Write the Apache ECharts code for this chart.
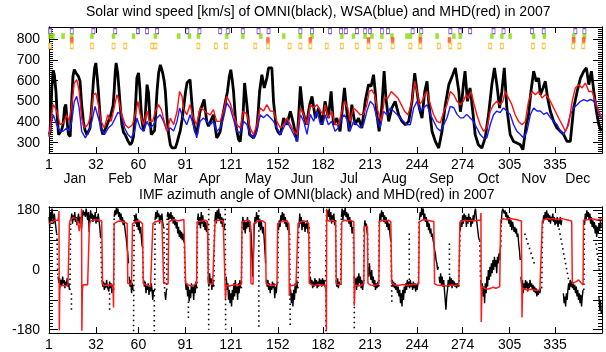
<!DOCTYPE html>
<html><head><meta charset="utf-8">
<script src="https://cdn.jsdelivr.net/npm/echarts@6/dist/echarts.min.js"></script>
<style>html,body{margin:0;padding:0;background:#fff}#c{width:606px;height:352px}</style>
</head><body><div id="c"></div>
<script>
const TITLE_TOP = 'Solar wind speed [km/s] of OMNI(black), WSA(blue) and MHD(red) in 2007';
const TITLE_BOTTOM = 'IMF azimuth angle of OMNI(black) and MHD(red) in 2007';
const DAY_TICKS = [1,32,60,91,121,152,182,213,244,274,305,335];
const MONTHS = ['Jan','Feb','Mar','Apr','May','Jun','Jul','Aug','Sep','Oct','Nov','Dec'];
const MONTH_POS = [18,48,78,107,139,168,199,229,260,291,321,350];
const SPEED_TICKS = [300,400,500,600,700,800];
const AZ_LABELS = [-180,0,180];
const AZ_MAJOR = [-180,-90,0,90,180];

// OMNI speed [day, km/s]
const omniSpeed = [[1,340],[1.7,350],[2.8,560],[3.8,650],[4.5,630],[5.6,549],[6.5,420],[7.3,339],[8.3,330],[9.3,360],[10.3,390],[11.3,470],[12.1,485],[13,400],[13.8,340],[15,330],[16,509],[16.8,620],[17.7,654],[18.6,640],[19.5,635],[20.5,620],[21.5,597],[22.6,480],[23.7,403],[24.8,360],[26,339],[27,330],[28.1,370],[29.2,480],[30.3,597],[31.1,660],[31.9,686],[32.8,620],[33.6,549],[34.5,450],[35.4,372],[36.5,340],[37.6,339],[39,380],[40.2,403],[41.3,420],[42.5,412],[43.3,480],[44,549],[44.7,640],[45.3,686],[46.3,640],[47.3,549],[48.2,460],[49.1,388],[50.2,350],[51.3,339],[53,310],[54.6,290],[55.7,300],[56.8,330],[57.9,450],[59,613],[60.1,638],[61,560],[61.7,468],[62.5,400],[63.4,356],[64.5,420],[65.7,581],[66.7,540],[67.6,420],[68.5,339],[69.6,330],[70.7,360],[71.5,450],[72.3,549],[73.4,640],[74.5,677],[75.2,660],[76,638],[77,600],[77.8,549],[78.9,420],[80,340],[81.1,290],[82.2,275],[83.3,266],[84.4,275],[85.5,300],[86.6,330],[87.7,360],[88.8,410],[89.9,470],[91,540],[92.1,590],[94.1,605],[95.2,500],[96.3,403],[97.4,360],[98.5,339],[99.6,400],[100.7,452],[102,480],[103.4,509],[105.1,403],[106.3,380],[107.4,371],[109.5,435],[110.6,380],[111.7,323],[112.8,335],[114,355],[116.2,452],[117.5,500],[118.8,548],[120,620],[121,653],[122,600],[122.8,548],[123.7,450],[124.6,371],[126.1,316],[127.2,305],[128.3,298],[129.2,450],[130.1,589],[131.6,484],[133.4,339],[134.7,330],[136,323],[137.1,340],[138.2,371],[139.1,450],[140,548],[141.5,629],[143.1,565],[144.8,613],[145.9,662],[147,668],[148.1,662],[149.2,500],[151,371],[152.3,350],[153.7,339],[155.9,419],[158,387],[160.3,452],[162.5,387],[164.7,306],[165.8,430],[166.9,573],[168.6,452],[170.9,387],[173.1,484],[174.6,524],[176.8,419],[179,468],[181.2,387],[183.2,500],[185.4,419],[187.2,548],[188.8,387],[191,419],[193.1,355],[194.7,468],[196,565],[197.6,452],[199.1,355],[200.9,484],[203,387],[205.3,419],[207.5,371],[209.7,500],[211.9,581],[213.6,573],[215.2,629],[216.3,548],[217.4,435],[218.9,355],[220.7,476],[222.2,646],[223.4,516],[225.2,403],[227.3,468],[229.5,500],[231.8,435],[234,403],[236.1,387],[238.4,403],[240.6,500],[242.4,637],[243.9,548],[245.4,468],[247.2,419],[249,548],[250.5,597],[251.6,500],[253.8,355],[256,306],[258.2,274],[260.4,355],[262.6,484],[264.9,581],[267.5,629],[269.2,662],[271.5,548],[272.5,450],[273.5,500],[274.5,581],[275.6,646],[277.2,500],[278.9,565],[280.7,452],[282.3,339],[284.4,290],[286.7,274],[288.9,323],[291.1,435],[293.3,581],[295,662],[296.6,581],[298.4,468],[299.9,548],[301.5,662],[303.2,468],[305.4,339],[307.6,306],[309.9,298],[312.1,290],[313.8,266],[316,387],[317.5,435],[319.1,548],[320.9,646],[322.6,597],[324.2,613],[325.3,532],[327.1,565],[328.6,597],[330.1,516],[331.9,452],[334.1,403],[336.3,371],[338.5,355],[340.7,339],[342.9,306],[345.1,306],[347.3,468],[349.6,548],[351.8,613],[354,646],[355.7,662],[357.3,581],[359,646],[360.6,548],[362.3,452],[363.9,387],[365.5,355]];

// WSA speed [day, km/s]
const wsaSpeed = [[1,330],[1.7,371],[3.8,435],[6.1,387],[8.3,355],[10.5,356],[12.7,371],[14.2,356],[16,403],[17.7,500],[19.3,524],[20.9,468],[22.6,355],[25,323],[27.3,355],[29.3,403],[31.4,476],[33,435],[35.4,371],[37.6,339],[40.2,372],[42.5,387],[44.7,419],[46.5,447],[48.7,435],[50.9,371],[53.1,339],[55.3,323],[57.5,355],[59,419],[61.2,371],[63.4,355],[65.7,403],[67.8,371],[70,387],[72.2,419],[74.4,435],[76.6,403],[78.9,355],[81.1,371],[83.3,356],[85.5,403],[87.2,468],[88.8,435],[89.7,419],[91.9,387],[94.1,435],[96.3,387],[98.5,323],[100.7,403],[102.9,419],[105.1,404],[107.4,387],[109.5,404],[111.7,355],[114,371],[116.2,421],[118.3,492],[120.6,468],[122.8,413],[125,355],[127.2,348],[129.4,404],[131.6,388],[133.8,339],[136,323],[138.2,356],[140.4,435],[142.6,421],[144.8,437],[147.1,421],[149.2,403],[151.4,372],[153.7,339],[155.9,372],[158,404],[160.3,372],[162.5,340],[164.7,307],[166.9,435],[169.1,404],[171.3,340],[173.5,437],[175.7,404],[177.9,452],[180.2,388],[182.3,404],[183.2,435],[185.4,387],[187.6,404],[189.8,355],[192.1,372],[194.3,419],[196,435],[198.2,404],[199.7,356],[202,404],[204.2,388],[206.4,372],[208.6,388],[210.8,452],[213,500],[215.2,484],[217.4,421],[219.6,372],[221.8,452],[224,435],[226.2,468],[228.4,453],[230.6,437],[232.8,419],[235,404],[237.2,387],[239.5,388],[241.7,468],[243.9,500],[246.1,453],[248.3,469],[250.5,484],[252.7,437],[254.9,404],[257.1,371],[259.3,356],[261.6,388],[263.7,421],[265.9,476],[268.2,469],[270.3,437],[272.5,420],[274.5,421],[276.7,437],[278.9,421],[281.1,403],[283.4,371],[285.6,339],[287.8,323],[290,324],[292.2,387],[294.4,435],[296.6,453],[298.8,445],[301,468],[303.2,453],[305.4,437],[307.6,388],[309.9,355],[312.1,340],[314.3,323],[316.5,356],[318.7,435],[320.9,468],[323.1,453],[325.3,453],[327.5,437],[329.7,445],[331.9,421],[334.1,404],[336.3,388],[338.5,356],[340.7,339],[342.9,372],[345.1,437],[347.3,468],[349.6,484],[351.8,500],[354,508],[356.2,501],[358.4,509],[360.6,501],[362.8,469],[365,421]];

// MHD speed [day, km/s]
const mhdSpeed = [[1,330],[1.7,355],[3,450],[3.8,484],[5,470],[6.1,452],[7.2,420],[8.3,387],[9.4,390],[10.5,396],[11.6,415],[12.7,435],[14.2,403],[15.1,440],[16,484],[16.9,540],[17.7,589],[19.3,605],[20.1,580],[20.9,548],[21.8,480],[22.6,419],[24.4,371],[26.6,387],[28.8,435],[29.6,490],[30.3,532],[31.9,540],[33.6,484],[35.4,403],[37.6,371],[39.8,435],[42,403],[44,468],[45.8,532],[47.3,500],[49.1,435],[51.3,387],[53.5,371],[56.1,387],[58.4,452],[59.7,500],[61.2,435],[63.4,387],[65.7,452],[67.2,403],[69.4,403],[71.2,452],[73.3,484],[75.1,460],[77.1,403],[78.9,355],[81.1,419],[83.3,387],[85.5,452],[87.2,548],[88.8,524],[89.7,468],[91.9,435],[94.1,484],[96.3,419],[98.5,387],[100.7,468],[102.9,460],[105.1,444],[107.4,435],[109.5,460],[111.7,403],[114,404],[116.2,452],[118.3,524],[120.6,492],[122.8,435],[125,387],[127.2,371],[129.4,452],[131.6,437],[133.8,371],[136,339],[138.2,387],[140.4,468],[142.6,453],[144.8,484],[147.1,453],[149.2,452],[151.4,403],[153.7,371],[155.9,387],[158,419],[160.3,388],[162.5,355],[164.7,339],[166.9,468],[169.1,437],[171.3,387],[173.5,484],[175.7,469],[177.9,484],[180.2,452],[182.3,435],[183.2,484],[185.4,419],[187.6,452],[189.8,387],[192.1,388],[194.3,452],[196,500],[198.2,468],[199.7,403],[202,468],[204.2,453],[206.4,435],[208.6,437],[210.8,484],[212.3,548],[214.1,556],[215.9,532],[218.1,452],[220.3,403],[222.5,516],[224.7,516],[226.9,548],[229.1,532],[231.3,516],[233.5,484],[235.7,452],[237.9,435],[240.1,484],[242.4,597],[243.9,548],[245.4,484],[247.2,500],[249,532],[250.5,548],[252.7,484],[254.9,435],[257.1,403],[259.3,396],[261.6,452],[263.7,484],[265.9,548],[268.2,532],[270.3,500],[272.5,484],[274.5,500],[276.3,532],[277.8,516],[279.6,548],[281.1,500],[283.4,435],[285.6,387],[287.8,355],[290,371],[292.2,452],[294.4,484],[296.6,500],[298.8,484],[300.6,500],[302.1,548],[304.3,516],[306.5,484],[308.7,435],[310.9,403],[313.2,387],[315.4,403],[317.5,500],[319.8,548],[322,532],[324.2,548],[326.4,516],[328.6,532],[330.8,516],[333,484],[335.2,452],[337.4,419],[339.7,387],[341.8,355],[344,387],[346.3,500],[348.4,565],[350.6,581],[352.9,565],[355.1,589],[357.3,548],[359.5,548],[361.7,500],[363.9,452],[366,419]];

// event markers (days) per row
const purpleEvents = [1.7,16,30.3,44.7,59.7,65.7,72.3,92.3,100.3,114,119,128.9,139.3,145.9,166.9,174.6,186.5,193.8,196.9,204.2,209.7,213,220.7,224.7,241,246.7,265.9,272.5,279,294.4,301,319.8,327.5,348.4,354.4];
const greenEvents = [1.7,3.6,10.3,16,29.3,43.6,56.8,71.2,86.6,93.7,99.6,118.3,128.9,140.8,155.9,166.9,174.6,194.3,202,209.7,214.1,220.7,227.3,237.3,239.5,246.1,257.2,268.2,272.5,293.3,299.9,305.4,320.9,328,347.3,354.4];
const redEvents = [16,145.5,173.5,211.9,227.8,246.1,265.3,347.3,353.9];
const orangeEvents = [1.7,16,29.3,43.6,51.3,69.2,71.2,99.6,111.1,117.7,137.2,145.5,159.8,166.9,173.5,184.3,194.3,204.2,211.9,219.6,227.8,239.5,246.1,258.3,265.9,271.9,292.2,299.9,320.4,327.5,347,353.6];
const EVENT_LEVELS = {purple:840, green:816, red:797, orange:768};

// OMNI azimuth: dense traces [day, deg]
const omniAzSegments = [
 [[1,160],[1.5,130],[2,175],[2.5,150],[3,185],[3.5,160],[4,140],[4.5,170],[5,150],[5.5,130],[6,110]],
 [[7,-20],[7.5,-40],[8,-25],[8.5,-50],[9,-30],[9.5,-45],[10,-20],[10.5,-40],[11,-30],[11.5,-55],[12,-35],[12.5,-45],[13,-25],[13.5,-50],[14,-40],[14.5,-60]],
 [[15.5,150],[16,170],[16.5,140],[17,165],[17.5,150],[18,175],[18.5,145],[19,160],[19.5,135],[20,155],[20.5,170],[21,140],[21.5,160],[22,150],[22.5,125],[23,160],[23.5,180],[24,165],[24.5,175],[25,160],[25.5,185],[26,170],[26.5,150],[27,175],[27.5,115],[28,160],[28.5,180],[29,155],[29.5,170],[30,145],[30.5,165],[31,150],[31.5,175],[32,140],[32.5,160],[33,145],[33.5,170],[34,150],[34.5,130],[35,100]],
 [[36,-30],[36.5,-50],[37,-35],[37.5,-60],[38,-40],[38.5,-55],[39,-30],[39.5,-50],[40,-45],[40.5,-65],[41,-35],[41.5,-55],[42,-40],[42.5,-70],[43,-45],[43.5,-60]],
 [[44,160],[44.5,180],[45,165],[45.5,190],[46,170],[46.5,185],[47,160],[47.5,175],[48,150],[48.5,170],[49,145],[49.5,160],[50,135],[50.5,150],[51,130],[51.5,110],[52,95],[52.5,70],[53,50],[53.5,20]],
 [[54,-20],[54.5,-50],[55,-30],[55.5,-70],[56,-40],[56.5,-60]],
 [[57.5,165],[58,140],[58.5,170],[59,130],[59.5,155],[60,120],[60.5,145],[61,110],[61.5,130],[62,95],[62.5,70]],
 [[63.5,-30],[64,-50],[64.5,-35],[65,-70],[65.5,-45],[66,-60],[66.5,-40],[67,-75],[67.5,-50],[68,-65],[68.5,-40],[69,-60],[69.5,-90],[70,-60]],
 [[71,150],[71.5,175],[72,155],[72.5,180],[73,160],[73.5,170],[74,140],[74.5,165],[75,150],[75.5,170],[76,145],[76.5,130]],
 [[77.5,-70],[78,-90],[78.5,-60]],
 [[79,160],[79.5,175],[80,150],[80.5,170],[81,155],[81.5,175],[82,150],[82.5,165],[83,140],[83.5,160],[84,135],[84.5,150],[85,125],[85.5,145],[86,110],[86.5,130],[87,100],[87.5,120],[88,95],[88.5,115],[89,90],[89.5,110],[90,85]],
 [[91,-30],[91.5,-60],[92,-40],[92.5,-80],[93,-50],[93.5,-95],[94,-60],[94.5,-85],[95,-40],[95.5,-70],[96,-50],[96.5,-90],[97,-45],[97.5,-70],[98,-35],[98.5,-55]],
 [[99,150],[99.5,170],[100,135],[100.5,160],[101,125],[101.5,175],[102,140],[102.5,165],[103,130],[103.5,150],[104,120],[104.5,145],[105,115],[105.5,135]],
 [[106,-20],[106.5,-50],[107,-10],[107.5,-40],[108,-25],[108.5,-60],[109,-30],[109.5,-50]],
 [[110.5,150],[111,175],[111.5,140],[112,180],[112.5,155],[113,185],[113.5,150],[114,170],[114.5,140],[115,160],[115.5,130],[116,155],[116.5,120],[117,140]],
 [[118,-20],[118.5,-60],[119,-40],[119.5,-90],[120,-60],[120.5,-100],[121,-70],[121.5,-110],[122,-60],[122.5,-90],[123,-40],[123.5,-80],[124,-30],[124.5,-70],[125,-50],[125.5,-90],[126,-40],[126.5,-70],[127,-30],[127.5,-55]],
 [[128.5,140],[129,160],[129.5,120],[130,150],[130.5,110],[131,145],[131.5,125],[132,160],[132.5,130],[133,150],[133.5,115],[134,135],[134.5,100],[135,40],[135.5,-20],[136,60],[136.5,130],[137,160],[137.5,140],[138,175],[138.5,150],[139,165],[139.5,130],[140,155],[140.5,120],[141,150],[141.5,130],[142,110],[142.5,130],[143,95],[143.5,60],[144,20]],
 [[144.5,-30],[145,-50],[145.5,-30],[146,-60],[146.5,-40],[147,-70],[147.5,-45],[148,-60],[148.5,-35],[149,-55],[149.5,-40],[150,-85],[150.5,-50],[151,-70],[151.5,-40]],
 [[152.5,120],[153,150],[153.5,130],[154,165],[154.5,145],[155,175],[155.5,150],[156,170],[156.5,140],[157,160],[157.5,130],[158,150],[158.5,120],[159,140],[159.5,110]],
 [[160.5,-60],[161,-100],[161.5,-70],[162,-110],[162.5,-60],[163,-90],[163.5,-40],[164,-70],[164.5,-30],[165,-55]],
 [[166,130],[166.5,170],[167,140],[167.5,160],[168,120],[168.5,150],[169,130],[169.5,145],[170,115],[170.5,140],[171,125],[171.5,150],[172,110],[172.5,130]],
 [[173.5,-20],[174,-45],[174.5,-30],[175,-55],[175.5,-35],[176,-50],[176.5,-25],[177,-45],[177.5,-30],[178,-55],[178.5,-35],[179,-50],[179.5,-25],[180,-45],[180.5,-30],[181,-50],[181.5,-25],[182,-45],[182.5,-30],[183,-50]],
 [[184.5,150],[185,180],[185.5,160],[186,185],[186.5,150],[187,175],[187.5,140],[188,165],[188.5,145],[189,170],[189.5,135],[190,150]],
 [[190.5,-30],[191,-50],[191.5,-25],[192,-55],[192.5,-35],[193,-45]],
 [[194,160],[194.5,185],[195,150],[195.5,180],[196,165],[196.5,190],[197,160],[197.5,175],[198,150],[198.5,170],[199,140],[199.5,160],[200,130],[200.5,150],[201,110],[201.5,130]],
 [[202.5,-20],[203,-50],[203.5,-25],[204,-60],[204.5,-20],[205,-45],[205.5,-10],[206,-40],[206.5,-20],[207,-55],[207.5,-30],[208,-60],[208.5,-35]],
 [[209,120],[209.5,150],[210,130],[210.5,140],[211,110]],
 [[211.5,10],[212,-20],[212.5,20],[213,-10],[213.5,-30],[214,0],[214.5,-40],[215,-20],[215.5,-50],[216,-30],[216.5,-60],[217,-40],[217.5,-55],[218,-35],[218.5,-50]],
 [[219,140],[219.5,170],[220,150],[220.5,180],[221,160],[221.5,175],[222,145],[222.5,165],[223,140],[223.5,160],[224,130],[224.5,150],[225,120],[225.5,140],[226,110],[226.5,90]],
 [[227.5,-30],[228,-50],[228.5,-35],[229,-55],[229.5,-40],[230,-60],[230.5,-45],[231,-70],[231.5,-50],[232,-80],[232.5,-60],[233,-100],[233.5,-70],[234,-110],[234.5,-60],[235,-90],[235.5,-50],[236,-70],[236.5,-40],[237,-60],[237.5,-30],[238,-50],[238.5,-35],[239,-55],[239.5,-30],[240,-50],[240.5,-40],[241,-60],[241.5,-35],[242,-55],[242.5,-40],[243,-65],[243.5,-45],[244,-60],[244.5,-40]],
 [[245.5,150],[246,175],[246.5,160],[247,190],[247.5,165],[248,185],[248.5,150],[249,170],[249.5,145],[250,160],[250.5,130],[251,150],[251.5,120],[252,140],[252.5,110],[253,125],[253.5,100],[254,110],[254.5,90],[255,80],[255.5,60],[256,50],[256.5,30],[257,20],[257.5,0],[258,10]],
 [[258.5,-20],[259,-40],[259.5,-10],[260,-45],[260.5,-20],[261,-50],[261.5,-30],[262,-60],[262.5,-90],[263,-120],[263.5,-80],[264,-60],[264.5,-30],[265,-50],[265.5,-20],[266,-45],[266.5,-25],[267,-55],[267.5,-30],[268,-45],[268.5,-35],[269,-50],[269.5,-40],[270,-55],[270.5,-40],[271,-50]],
 [[272.5,120],[273,150],[273.5,130],[274,165],[274.5,140],[275,170],[275.5,150],[276,165],[276.5,130],[277,160],[277.5,140],[278,170],[278.5,145],[279,160],[279.5,130],[280,155],[280.5,140],[281,165],[281.5,150],[282,175],[282.5,185],[283,160],[283.5,140],[284,120],[284.5,100],[285,90]],
 [[286,-30],[286.5,-60],[287,-40],[287.5,-80],[288,-50],[288.5,-100],[289,-40],[289.5,-70],[290,-20],[290.5,-50],[291,0],[291.5,-30],[292,10],[292.5,-20],[293,20],[293.5,-10],[294,30],[294.5,0],[295,40],[295.5,10],[296,30],[296.5,-10],[297,40],[297.5,20],[298,50],[298.5,30],[299,70]],
 [[299.5,140],[300,175],[300.5,185],[301,190],[301.5,170],[302,180],[302.5,160],[303,175],[303.5,150],[304,165],[304.5,140],[305,160],[305.5,130],[306,150],[306.5,120],[307,145],[307.5,130],[308,115],[308.5,130],[309,110],[309.5,125],[310,100],[310.5,110],[311,80],[311.5,60],[312,30]],
 [[312.5,-20],[313,-50],[313.5,-30],[314,-70],[314.5,-40],[315,-60],[315.5,-30],[316,-55],[316.5,-35],[317,-65],[317.5,-40],[318,-55],[318.5,-30],[319,-50],[319.5,-40],[320,-60],[320.5,-45],[321,-65],[321.5,-50],[322,-70],[322.5,-55],[323,-80],[323.5,-60],[324,-75],[324.5,-60],[325,-70],[325.5,-55]],
 [[327,140],[327.5,165],[328,150],[328.5,175],[329,155],[329.5,180],[330,150],[330.5,170],[331,145],[331.5,165],[332,140],[332.5,160],[333,150],[333.5,170],[334,145],[334.5,160],[335,135],[335.5,155],[336,140],[336.5,160],[337,130],[337.5,150],[338,140],[338.5,160],[339,135],[339.5,150]],
 [[340.5,-70],[341,-100],[341.5,-80],[342,-110],[342.5,-70],[343,-90],[343.5,-60],[344,-40],[344.5,-60],[345,-30],[345.5,-50],[346,-35],[346.5,-55],[347,-40],[347.5,-60],[348,-45],[348.5,-70],[349,-50],[349.5,-80],[350,-60],[350.5,-90],[351,-70],[351.5,-100],[352,-75],[352.5,-110],[353,-80],[353.5,-60]],
 [[354.5,140],[355,170],[355.5,150],[356,180],[356.5,160],[357,175],[357.5,150],[358,170],[358.5,140],[359,160],[359.5,130],[360,150],[360.5,125],[361,145],[361.5,110],[362,135],[362.5,100],[363,130],[363.5,110],[364,140],[364.5,120],[365,150],[365.5,130]],
 [[364,-80],[364.5,-120],[365,-90],[365.5,-130]]
];
// OMNI azimuth sparse transitions [day1, deg1, day2, deg2]
const omniAzStreaks = [[6.2,110,6.8,-20],[14.8,-60,15.3,150],[15.8,-70,15.8,-125],[35.2,100,35.8,-30],[41,-70,41,-120],[43.7,-60,44,160],[56.8,-185,57.2,165],[62.8,70,63.2,-30],[70.5,-60,70.5,-185],[70.8,-60,71,150],[76.8,130,77.3,-70],[78.7,-60,79,160],[90.3,85,90.8,-30],[93,-95,93,-145],[98.7,-55,99,150],[105.7,115,106,-20],[106.4,185,106.4,-180],[109.8,-50,110.3,150],[117.3,185,117.6,-180],[128,-55,128.4,140],[139.5,180,139.5,-178],[152,-40,152.3,120],[159.8,110,160.2,-170],[165.3,-55,165.8,130],[172.7,130,173.3,-20],[183.5,-50,184.2,185],[183.8,-60,183.8,-185],[190.2,150,190.4,-30],[193.5,-45,194,160],[201.8,130,202.2,20],[202.5,-20,202.5,-185],[208.7,-35,209,120],[211.2,110,211.5,10],[218.7,-50,219,140],[226.7,90,227.3,-100],[238.8,110,238.8,-30],[244.8,-40,245.3,150],[265.3,80,265.3,-20],[271.5,-50,272.3,120],[285.3,90,285.8,-30],[299.2,70,299.5,140],[315,110,322,10],[326.2,-55,326.8,140],[337,140,344,-30],[354,-60,354.4,140],[362,80,365,-30]];

// MHD azimuth [day, deg]
const mhdAz = [[1,140],[2,142],[3,145],[4,148],[5,150],[6,148],[7,150],[7.6,178],[7.8,-182],[8.1,-60],[8.5,-48],[10,-46],[12,-48],[13.5,-45],[14.2,-42],[14.5,140],[15,150],[16,155],[17,158],[18,156],[19,155],[20,150],[20.6,130],[21,117],[21.4,135],[22,152],[22.3,160],[22.5,185],[22.7,-183],[23,-60],[23.5,-45],[25,-44],[26.5,-45],[27.3,-42],[27.7,140],[28.5,148],[30,150],[32,152],[34,150],[35.8,148],[36.3,-40],[37,-47],[39,-45],[41,-46],[42.5,-44],[43.3,-60],[43.6,-113],[44,140],[45,145],[47,148],[49,146],[51,144],[52.6,140],[53,-40],[54,-45],[55.5,-44],[56.1,140],[57,145],[59,148],[61,147],[62.7,140],[63.2,-40],[64,-45],[66,-47],[68,-50],[69.2,-45],[69.6,140],[71,145],[73,148],[75.5,146],[76.3,140],[76.7,-40],[78,-42],[79.6,-42],[80.1,145],[82,150],[84,152],[86,148],[88,150],[90,152],[90.8,148],[91.2,-40],[93,-45],[95,-48],[97,-44],[98.4,-40],[98.8,145],[100,150],[102,148],[104,150],[105.6,146],[106.2,-40],[107.5,-45],[109,-44],[110.2,-40],[110.6,145],[112,150],[114,150],[116,148],[117.2,145],[117.5,-88],[118,-45],[120,-48],[122,-46],[124,-44],[126,-46],[128,-43],[128.4,145],[130,148],[132,150],[133.8,146],[134.3,-40],[135.7,-43],[136.2,140],[138,145],[140,150],[142,148],[143.8,142],[144.3,-40],[146,-45],[148,-47],[150,-45],[151.5,-42],[151.9,140],[154,145],[156,148],[158,147],[159.3,140],[159.6,-78],[160.2,-48],[162,-46],[164,-45],[165,-44],[165.4,140],[167,145],[169,148],[171,146],[172.4,140],[172.8,-40],[175,-45],[177,-46],[179,-44],[181,-46],[183,-45],[183.8,-60],[184.1,-183],[184.3,185],[184.6,150],[186,148],[188,150],[190.2,145],[190.6,-42],[192,-45],[193.8,-42],[194.2,145],[196,150],[198,148],[200,150],[202.2,145],[202.5,-108],[203,-45],[205,-48],[207,-46],[208.8,-42],[209.2,132],[210.5,135],[211.2,130],[211.5,-40],[213,-45],[215,-46],[217,-45],[218.7,-42],[219.1,145],[221,150],[223,148],[225,150],[226.6,146],[227.2,-40],[229,-45],[231,-47],[233,-45],[235,-44],[237,-46],[239,-45],[241,-44],[243,-43],[245,-42],[245.4,145],[247,150],[249,152],[251,150],[253,148],[255,146],[255.5,-42],[257,-45],[259,-47],[261,-46],[263,-48],[265,-46],[267,-45],[269,-47],[271.5,-44],[272.2,145],[274,148],[276,150],[278,148],[280,150],[282,148],[284,150],[285.8,150],[286.1,172],[286.3,-157],[286.8,-50],[288,-55],[290,-58],[292,-56],[294,-52],[296,-55],[298.5,-50],[299.1,150],[301,155],[303,152],[305,156],[307,154],[309,152],[311,150],[312.8,148],[313.2,-143],[313.6,-55],[315,-58],[317,-60],[319,-58],[321,-60],[323,-62],[325,-60],[326.2,-58],[326.6,148],[328,152],[330,155],[332,153],[334,155],[336,152],[338,154],[340,155],[342,152],[344,150],[346,148],[346.4,-40],[347.5,-42],[349,-35],[350.5,-30],[352,-38],[353.5,-45],[353.8,150],[355,155],[357,152],[359,155],[361,153],[363,150],[365,155],[366,150]];

const FONT = 'Liberation Sans, Arial, sans-serif';
function stepValues(lo, hi, step){ const a=[]; for(let v=lo; v<=hi+1e-9; v+=step) a.push(v); return a; }

const chart = echarts.init(document.getElementById('c'), null, {renderer:'canvas'});
const axisLine = {show:true, onZero:false, lineStyle:{color:'#000', width:1}};
function xAx(grid, pos, labels){
  return {type:'value', gridIndex:grid, position:pos, min:1, max:366,
    axisLine, splitLine:{show:false},
    axisTick:{show:true, inside:true, length:6, customValues:DAY_TICKS, lineStyle:{color:'#000'}},
    axisLabel:{show:labels, customValues:DAY_TICKS, color:'#000', fontSize:14, fontFamily:FONT, margin:5}};
}
function yAx(grid, pos, min, max, ticks, len, labels, labelVals){
  return {type:'value', gridIndex:grid, position:pos, min, max, axisLine, splitLine:{show:false},
    axisTick:{show:true, inside:true, length:len, customValues:ticks, lineStyle:{color:'#000'}},
    axisLabel:{show:labels, customValues:labelVals||ticks, color:'#000', fontSize:14, fontFamily:FONT, margin:9}};
}
const speedMinor = stepValues(250, 860, 10);
const azMinor = stepValues(-190, 190, 10);

const series = [];
series.push({type:'line', xAxisIndex:0, yAxisIndex:0, data:omniSpeed, showSymbol:false, lineStyle:{color:'#000', width:2.8}, z:2});
series.push({type:'line', xAxisIndex:0, yAxisIndex:0, data:wsaSpeed, showSymbol:false, lineStyle:{color:'#1a1aff', width:1.4}, z:3});
series.push({type:'line', xAxisIndex:0, yAxisIndex:0, data:mhdSpeed, showSymbol:false, lineStyle:{color:'#ff1010', width:1.4}, z:4});
function evSeries(days, level, color, hollow){
  return {type:'scatter', xAxisIndex:0, yAxisIndex:0, data:days.map(d=>[d, level]), symbol:'rect', symbolSize:[3,5],
    itemStyle:{color: hollow ? '#fff' : color, borderColor:color, borderWidth: hollow ? 1 : 0.5}, z:5};
}
series.push(evSeries(purpleEvents, EVENT_LEVELS.purple, '#6b22d8', true));
series.push(evSeries(greenEvents, EVENT_LEVELS.green, '#86dc00', false));
series.push(evSeries(redEvents, EVENT_LEVELS.red, '#ff4a1a', false));
series.push(evSeries(orangeEvents, EVENT_LEVELS.orange, '#ffb000', true));
omniAzSegments.forEach(seg => series.push({type:'line', xAxisIndex:3, yAxisIndex:4, data:seg, showSymbol:false, lineStyle:{color:'#000', width:1.4}, z:2}));
omniAzStreaks.forEach(s => series.push({type:'line', xAxisIndex:3, yAxisIndex:4, data:[[s[0],s[1]],[s[2],s[3]]], showSymbol:false, lineStyle:{color:'#000', width:1.6, type:[1.5,3.5]}, z:2}));
series.push({type:'line', xAxisIndex:3, yAxisIndex:4, data:mhdAz, showSymbol:false, lineStyle:{color:'#ff1a1a', width:1.5}, z:4});

chart.setOption({
  animation:false,
  backgroundColor:'#fff',
  title:[
    {text:TITLE_TOP, left:86, top:5, padding:0, textStyle:{fontSize:14, fontWeight:'normal', color:'#000', fontFamily:FONT}},
    {text:TITLE_BOTTOM, left:139, top:188, padding:0, textStyle:{fontSize:14, fontWeight:'normal', color:'#000', fontFamily:FONT}}
  ],
  grid:[
    {left:49, right:4, top:27, height:126, containLabel:false, outerBoundsMode:'none'},
    {left:49, right:4, top:207, height:126, containLabel:false, outerBoundsMode:'none'}
  ],
  xAxis:[
    xAx(0,'bottom',true),
    xAx(0,'top',false),
    {type:'value', gridIndex:0, position:'bottom', offset:14, min:1, max:366, axisLine:{show:false, onZero:false}, axisTick:{show:false}, splitLine:{show:false},
      axisLabel:{show:true, customValues:MONTH_POS, color:'#000', fontSize:14, fontFamily:FONT, margin:5, formatter:v=>MONTHS[MONTH_POS.indexOf(v)]||''}},
    xAx(1,'bottom',true),
    xAx(1,'top',false)
  ],
  yAxis:[
    yAx(0,'left',250,860,SPEED_TICKS,9,true,SPEED_TICKS),
    yAx(0,'left',250,860,speedMinor,4,false),
    yAx(0,'right',250,860,SPEED_TICKS,9,false),
    yAx(0,'right',250,860,speedMinor,4,false),
    yAx(1,'left',-190,190,AZ_MAJOR,9,true,AZ_LABELS),
    yAx(1,'left',-190,190,azMinor,4,false),
    yAx(1,'right',-190,190,AZ_MAJOR,9,false),
    yAx(1,'right',-190,190,azMinor,4,false)
  ],
  series
});
</script></body></html>
